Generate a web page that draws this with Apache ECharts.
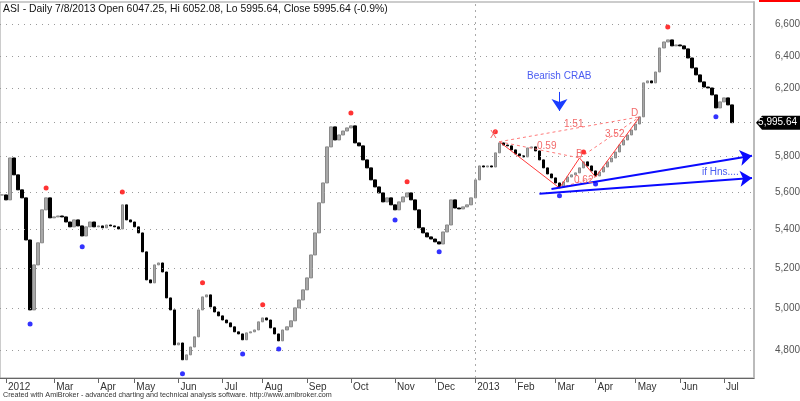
<!DOCTYPE html>
<html><head><meta charset="utf-8">
<script src="https://cdn.jsdelivr.net/npm/echarts@6/dist/echarts.min.js"></script>
<style>html,body{margin:0;padding:0;background:#fff}#c{width:800px;height:401px}</style>
</head><body><div id="c"></div>
<script>
// ---- data (closes sampled about every 2 trading days, Jan 2012 .. 8 Jul 2013) ----
const closes = [
5586,5559,5792,5697,5614,5570,5345,4991,5216,5330,
5505,5570,5462,5467,5472,5467,5440,5414,5451,5419,
5366,5414,5440,5414,5419,5409,5424,5419,5414,5403,
5532,5451,5440,5414,5382,5283,5140,5125,5216,5226,
5180,5050,4991,4823,4832,4753,4776,4813,4861,4991,
5055,5065,5006,4981,4962,4942,4928,4909,4885,4875,
4847,4880,4885,4894,4933,4952,4942,4904,4875,4842,
4894,4909,4938,5001,5040,5090,5150,5267,5382,5543,
5652,5855,5971,5895,5924,5947,5965,5977,5878,5861,
5781,5736,5669,5630,5597,5548,5570,5532,5505,5548,
5575,5597,5559,5505,5409,5382,5361,5350,5335,5324,
5387,5424,5559,5515,5510,5521,5532,5570,5669,5747,
5741,5747,5741,5821,5878,5866,5861,5838,5815,5804,
5798,5849,5855,5832,5781,5736,5702,5680,5652,5630,
5658,5685,5697,5708,5736,5770,5747,5719,5691,5713,
5741,5770,5792,5826,5866,5895,5924,5953,5988,6030,
6234,6246,6234,6301,6451,6489,6502,6464,6470,6464,
6445,6388,6326,6283,6240,6209,6203,6161,6083,6119,
6143,6101,5995.64
];
const slotCount = 188;
const monthLabels = ['2012','Mar','Apr','May','Jun','Jul','Aug','Sep','Oct','Nov','Dec','2013','Feb','Mar','Apr','May','Jun','Jul'];
const monthIdx    = [1,13,24,33,44,55,65,76,87,98,108,118,128,138,148,158,169,180];
const yTicks = [4800,5000,5200,5400,5600,5800,6000,6200,6400,6600];
const yearStartIdx = 118;
const swingHighs = [[11,5624],[30,5602],[50,5125],[65,5016],[87,6053],[101,5658],[123,5942],[145,5826],[166,6585]];
const swingLows  = [[7,4923],[20,5309],[45,4688],[60,4780],[69,4804],[98,5451],[109,5283],[139,5581],[148,5646],[178,6030]];
const patX = [124,5885], patA = [139,5624], patB = [144,5792], patC = [148,5685], patD = [159,6030];
const trendUp1 = [[137,5619],[187,5804]];
const trendUp2 = [[134,5592],[187,5680]];
const crabArrow = [[139,6179],[139,6065]];
const lastClose = 5995.64;
const titleText = 'ASI - Daily 7/8/2013 Open 6047.25, Hi 6052.08, Lo 5995.64, Close 5995.64 (-0.9%)';
const footerText = 'Created with AmiBroker - advanced charting and technical analysis software. http://www.amibroker.com';

const FONT = '"Liberation Sans", Arial, sans-serif';
const cats = Array.from({length: slotCount}, (_, i) => String(i));
const candles = closes.map((c, i) => {
  const o = i ? closes[i - 1] : c;
  return [o, c, Math.min(o, c), Math.max(o, c)];
});
const labelAt = {};
monthIdx.forEach((k, j) => { labelAt[k] = monthLabels[j]; });

const chart = echarts.init(document.getElementById('c'), null, {renderer: 'canvas'});
const solidRed = {color: '#ff3a3a', width: 1, type: 'solid'};
const dashRed = {color: '#ff7a7a', width: 1, type: [3, 3]};
const seg = (a, b, ls) => [{coord: a, lineStyle: ls}, {coord: b}];

chart.setOption({
  animation: false,
  grid: {left: 0, right: 46, top: 2, bottom: 23, show: true, borderColor: '#999', borderWidth: 1},
  xAxis: {
    type: 'category', data: cats, boundaryGap: true,
    axisLine: {lineStyle: {color: '#666', width: 1}},
    axisTick: {show: true, alignWithLabel: true, length: 5, inside: false,
      interval: (i) => labelAt[i] !== undefined, lineStyle: {color: '#666'}},
    axisLabel: {interval: (i) => labelAt[i] !== undefined,
      formatter: (v, i) => labelAt[i] || '', align: 'left', margin: 4, padding: [0, 0, 0, 2],
      color: '#333', fontSize: 10, fontFamily: FONT},
    splitLine: {show: false}
  },
  yAxis: {
    type: 'log', logBase: 10, min: 4669, max: 6748, position: 'right',
    axisLine: {show: true, lineStyle: {color: '#bbb', width: 2}},
    axisTick: {show: false}, axisLabel: {show: false}, splitLine: {show: false}
  },
  series: [
    {
      type: 'candlestick', name: 'ASI', data: candles, barWidth: 3, z: 3,
      itemStyle: {color: '#a8a8a8', color0: '#000', borderColor: '#8a8a8a', borderColor0: '#000', borderWidth: 1},
      markLine: {
        silent: true, symbol: 'none', animation: false,
        lineStyle: {color: '#9a9a9a', width: 1, type: [1, 5]},
        label: {show: true, position: 'end', distance: 21, color: '#555', fontSize: 10, fontFamily: FONT,
          formatter: (p) => Number(p.value).toLocaleString('en-US')},
        data: yTicks.map(v => ({yAxis: v})).concat([{xAxis: String(yearStartIdx), label: {show: false}, lineStyle: {color: '#aaa', type: [2, 4]}}])
      }
    },
    {
      type: 'scatter', name: 'swing highs', data: swingHighs, symbol: 'circle', symbolSize: 5, z: 5,
      itemStyle: {color: '#ff0000'},
      markLine: {
        silent: true, symbol: 'none', animation: false, label: {show: false},
        data: [
          seg(patX, patA, solidRed), seg(patA, patB, solidRed), seg(patB, patC, solidRed), seg(patC, patD, solidRed),
          seg(patX, patB, dashRed), seg(patA, patC, dashRed), seg(patB, patD, dashRed), seg(patX, patD, dashRed)
        ]
      }
    },
    {
      type: 'scatter', name: 'swing lows', data: swingLows, symbol: 'circle', symbolSize: 5, z: 5,
      itemStyle: {color: '#0000ff'},
      markLine: {
        silent: true, animation: false, label: {show: false},
        symbol: ['none', 'arrow'], symbolSize: 12,
        data: [
          [{coord: trendUp1[0], lineStyle: {color: '#0a0aff', width: 2, type: 'solid'}}, {coord: trendUp1[1]}],
          [{coord: trendUp2[0], lineStyle: {color: '#0a0aff', width: 2, type: 'solid'}}, {coord: trendUp2[1]}],
          [{coord: crabArrow[0], lineStyle: {color: '#1a3cff', width: 1, type: 'solid'}, symbolSize: 9}, {coord: crabArrow[1]}]
        ]
      }
    }
  ]
});

// annotations and the last-price tag
const yLast = chart.convertToPixel({yAxisIndex: 0}, lastClose);
const txt = (s, x, y, color, size) => ({type: 'text', x, y, silent: true, z: 50,
  style: {text: s, fill: color, font: size + 'px ' + FONT, textVerticalAlign: 'middle'}});
const redTxt = '#f26a6a';
chart.setOption({
  graphic: [
    {type: 'rect', shape: {x: 759, y: 0, width: 41, height: 2}, style: {fill: '#ff0000'}, silent: true},
    txt(titleText, 3, 9, '#111', 10.4),
    txt(footerText, 3, 395, '#333', 7.2),
    txt('Bearish CRAB', 527, 76, '#4a5cf2', 10),
    txt('if Hns....', 702, 172, '#4a5cf2', 10),
    txt('X', 490, 135, redTxt, 10),
    txt('B', 576, 154, redTxt, 10),
    txt('D', 631, 113, redTxt, 10),
    txt('0.59', 537, 146, redTxt, 10),
    txt('0.62', 574, 180, redTxt, 10),
    txt('3.52', 605, 134, redTxt, 10),
    txt('1.51', 564, 124, redTxt, 10),
    {type: 'polygon', silent: true, z: 60,
      shape: {points: [[756, yLast], [762, yLast - 7], [800, yLast - 7], [800, yLast + 7], [762, yLast + 7]]},
      style: {fill: '#000'}},
    {type: 'text', silent: true, z: 61, x: 797, y: yLast,
      style: {text: lastClose.toLocaleString('en-US', {minimumFractionDigits: 2}), fill: '#fff',
        font: '10px ' + FONT, textAlign: 'right', textVerticalAlign: 'middle'}}
  ]
});
</script></body></html>
